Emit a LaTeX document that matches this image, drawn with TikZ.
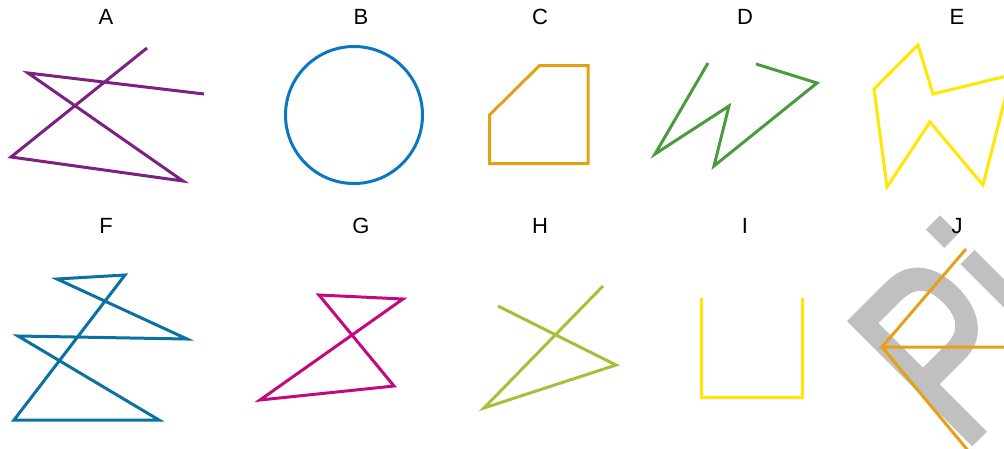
\documentclass[tikz,border=0pt]{standalone}
\usepackage{fontspec}
\setmainfont{Liberation Sans}
\newfontfamily\wmfont[FakeBold=2]{Liberation Sans}
\usepackage{graphicx}
\usetikzlibrary{backgrounds}
\definecolor{shpA}{HTML}{7B2181}
\definecolor{shpB}{HTML}{0A77C0}
\definecolor{shpC}{HTML}{E4A115}
\definecolor{shpD}{HTML}{4C9A3E}
\definecolor{shpE}{HTML}{FFE700}
\definecolor{shpF}{HTML}{0A71A0}
\definecolor{shpG}{HTML}{C30A7C}
\definecolor{shpH}{HTML}{A5C13A}
\definecolor{wmgray}{HTML}{C0C0C0}
\tikzset{
  shplbl/.style  = {font=\fontsize{22}{22}\selectfont, anchor=base,
                    inner sep=0pt},
  shpline/.style = {line width=3pt, line join=miter},
  wmark/.style   = {text=wmgray, rotate=45, anchor=base west,
                    inner sep=0pt, outer sep=0pt,
                    font=\wmfont\fontsize{250}{250}\selectfont},
}

\begin{document}
\begin{tikzpicture}[x=1pt, y=-1pt]
  \useasboundingbox (0,0) rectangle (1004,448);
  \clip (0,0) rectangle (1004,448);
  \begin{scope}[on background layer]
    \node[wmark] (wm) at (961,454) {\scalebox{0.74}[1]{Pi}};
  \end{scope}

  \node[shplbl] (lblA) at (106,24.5) {A};
  \node[shplbl] (lblB) at (361,24.5) {B};
  \node[shplbl] (lblC) at (540,24.5) {C};
  \node[shplbl] (lblD) at (745,24.5) {D};
  \node[shplbl] (lblE) at (957,24.5) {E};
  \node[shplbl] (lblF) at (106,233) {F};
  \node[shplbl] (lblG) at (361,233) {G};
  \node[shplbl] (lblH) at (540,233) {H};
  \node[shplbl] (lblI) at (745,233) {I};
  \node[shplbl] (lblJ) at (957,233) {J};

  \draw[shpline, shpA] (147,48) -- (11,157) -- (183,181) -- (28,73) -- (204,94);
  \draw[shpline, shpB] (354,115) circle[radius=68.5];
  \draw[shpline, shpC] (489.5,115) -- (539.5,65.5) -- (588,65.5) -- (588,163.5)
        -- (489.5,163.5) -- cycle;
  \draw[shpline, shpD] (708,63) -- (655,154) -- (729,106) -- (714,166)
        -- (817,83) -- (756,64);
  \draw[shpline, shpE] (918,45) -- (933,94) -- (1011,75) -- (983,185)
        -- (930,122) -- (887,187) -- (874,89) -- cycle;

  \draw[shpline, shpF] (57,279) -- (125,275) -- (14,420) -- (159,420)
        -- (18,336) -- (187,339) -- cycle;
  \draw[shpline, shpG] (319,295) -- (403,299) -- (260,400) -- (394,386) -- cycle;
  \draw[shpline, shpH] (603,286) -- (484,408) -- (616,365) -- (498,306);
  \draw[shpline, shpE] (701,298) -- (701,397) -- (802,397) -- (802,298);
  \draw[shpline, shpC] (966,249) -- (882,347) -- (1030,347)
        (882,347) -- (990,477);
\end{tikzpicture}
\end{document}
